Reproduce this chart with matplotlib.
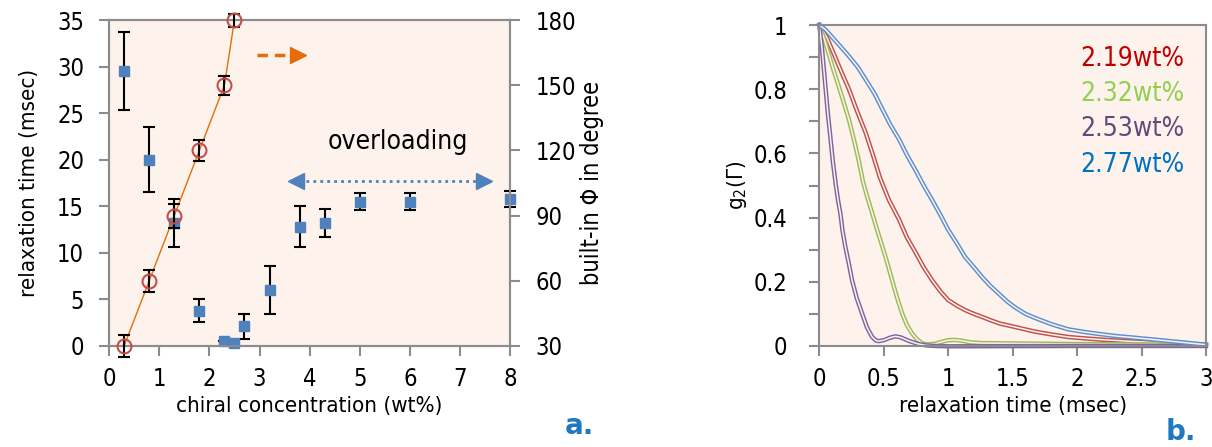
import matplotlib
matplotlib.use("Agg")
import matplotlib.pyplot as plt
import numpy as np

plt.rcParams['font.family'] = ['DejaVu Sans']
plt.rcParams['font.stretch'] = 'condensed'
plt.rcParams['mathtext.default'] = 'regular'

# ---- panel a data ----
conc = [0.3, 0.8, 1.3, 1.8, 2.3, 2.5, 2.7, 3.2, 3.8, 4.3, 5.0, 6.0, 8.0]
relax = [29.5, 20.0, 13.2, 3.8, 0.5, 0.3, 2.1, 6.0, 12.8, 13.2, 15.5, 15.5, 15.8]
relax_err = [4.2, 3.5, 2.6, 1.2, 0.0, 0.0, 1.35, 2.6, 2.2, 1.5, 0.9, 0.9, 0.85]

phi_conc = [0.3, 0.8, 1.3, 1.8, 2.3, 2.5]
phi_deg = [30, 60, 90, 120, 150, 180]
phi_err = [5.0, 5.0, 5.5, 5.0, 4.5, 3.0]

# ---- panel b data (g2 decay curves) ----
t_blue = [0, 0.05, 0.1, 0.16, 0.23, 0.3, 0.36, 0.43, 0.49, 0.55, 0.62, 0.68, 0.75,
          0.81, 0.875, 0.94, 1.0, 1.07, 1.13, 1.2, 1.26, 1.33, 1.4, 1.46, 1.52, 1.6,
          1.67, 1.8, 1.93, 2.05, 2.18, 2.3, 2.44, 2.57, 2.7, 2.85, 3.0]
g_blue = [1.0, 0.985, 0.962, 0.935, 0.903, 0.868, 0.83, 0.785, 0.737, 0.69, 0.643,
          0.595, 0.545, 0.50, 0.455, 0.408, 0.362, 0.318, 0.278, 0.245, 0.216, 0.186,
          0.16, 0.138, 0.12, 0.10, 0.088, 0.068, 0.052, 0.044, 0.037, 0.031, 0.026,
          0.021, 0.016, 0.01, 0.004]
t_red = [0, 0.06, 0.12, 0.17, 0.23, 0.29, 0.36, 0.42, 0.47, 0.54, 0.62, 0.68, 0.75,
         0.81, 0.875, 0.94, 1.0, 1.07, 1.13, 1.2, 1.26, 1.33, 1.4, 1.52, 1.67, 1.8,
         1.93, 2.05, 2.18, 2.44, 2.7, 3.0]
g_red = [1.0, 0.96, 0.903, 0.855, 0.80, 0.735, 0.664, 0.59, 0.525, 0.455, 0.393,
         0.338, 0.289, 0.245, 0.205, 0.17, 0.143, 0.125, 0.112, 0.10, 0.091, 0.08,
         0.07, 0.059, 0.045, 0.036, 0.028, 0.024, 0.020, 0.014, 0.009, 0.004]
t_green = [0, 0.035, 0.07, 0.11, 0.15, 0.19, 0.23, 0.27, 0.305, 0.34, 0.375, 0.41,
           0.45, 0.49, 0.53, 0.565, 0.6, 0.643, 0.68, 0.72, 0.76, 0.8, 0.84, 0.9,
           0.95, 1.0, 1.05, 1.11, 1.18, 1.26, 1.52, 2.0, 3.0]
g_green = [1.0, 0.96, 0.914, 0.86, 0.81, 0.758, 0.705, 0.64, 0.58, 0.51, 0.46, 0.414,
           0.36, 0.309, 0.255, 0.205, 0.155, 0.101, 0.065, 0.039, 0.02, 0.008, 0.005,
           0.007, 0.013, 0.018, 0.019, 0.016, 0.011, 0.009, 0.008, 0.006, 0.004]
t_purple = [0, 0.02, 0.047, 0.065, 0.085, 0.105, 0.127, 0.145, 0.163, 0.18, 0.202,
            0.23, 0.254, 0.29, 0.332, 0.37, 0.41, 0.44, 0.461, 0.5, 0.55, 0.59, 0.63,
            0.694, 0.76, 0.824, 0.9, 1.0, 2.0, 3.0]
g_purple = [1.0, 0.93, 0.81, 0.73, 0.653, 0.575, 0.505, 0.455, 0.414, 0.36, 0.309,
            0.255, 0.205, 0.15, 0.101, 0.058, 0.028, 0.017, 0.015, 0.018, 0.026, 0.030,
            0.027, 0.016, 0.007, 0.002, 0.0, -0.001, 0.0, 0.0]
labels_b = ["2.19wt%", "2.32wt%", "2.53wt%", "2.77wt%"]

FACE = "#FDF3EC"
SPINE = "#8C8C8C"
BLUE = "#4F81BD"
ORANGE = "#E46C0A"
FS = 17     # tick labels
LFS = 16    # axis labels

fig = plt.figure(figsize=(12.12, 4.47), dpi=100)


def style_axes(ax, ypad=11):
    for s in ax.spines.values():
        s.set_color(SPINE)
        s.set_linewidth(1.5)
    ax.tick_params(axis="both", which="both", color=SPINE, width=1.5, length=7,
                   labelsize=FS, direction="out")
    ax.tick_params(axis="y", pad=ypad)
    ax.tick_params(axis="x", pad=8)


# ---- A ----
ax = fig.add_axes([0.090, 0.226, 0.331, 0.729])
ax.set_facecolor(FACE)
ax.set_xlim(0, 8)
ax.set_ylim(0, 35)
ax.set_xticks(range(0, 9))
ax.set_yticks(range(0, 36, 5))
style_axes(ax)
ax.errorbar(conc, relax, yerr=relax_err, fmt="s", color=BLUE, ms=7.5,
            ecolor="black", elinewidth=1.5, capsize=4, capthick=1.5, zorder=3,
            clip_on=False)
ax.set_xlabel("chiral concentration (wt%)", fontsize=LFS, labelpad=4)
ax.set_ylabel("relaxation time (msec)", fontsize=LFS, labelpad=13)

ax2 = ax.twinx()
ax2.set_ylim(30, 180)
ax2.set_yticks(range(30, 181, 30))
style_axes(ax2)
ax2.plot(phi_conc, phi_deg, color=ORANGE, lw=1, zorder=2)
ax2.errorbar(phi_conc, phi_deg, yerr=phi_err, fmt="none", ecolor="black",
             elinewidth=1.5, capsize=4, capthick=1.5, zorder=3, clip_on=False)
ax2.plot(phi_conc, phi_deg, "o", mfc="none", mec="#C0504D", mew=1.5, ms=10,
         zorder=4, clip_on=False)
ax2.set_ylabel("built-in Φ in degree", fontsize=17, labelpad=3)

# orange arrow pointing to right axis
ax.plot([2.94, 3.64], [31.3, 31.3], color=ORANGE, lw=2.5, dashes=(3, 2))
ax.plot([3.76], [31.3], marker=">", color=ORANGE, ms=11)
# blue dotted double arrow
ax.plot([3.78, 7.40], [17.7, 17.7], color=BLUE, lw=2, ls=(0, (1, 1.5)))
ax.plot([3.72], [17.7], marker="<", color=BLUE, ms=11)
ax.plot([7.48], [17.7], marker=">", color=BLUE, ms=11)
ax.text(5.75, 21.9, "overloading", fontsize=19, ha="center", va="center")
fig.text(0.466, 0.03, "a.", color="#1F78C1", fontsize=20, fontweight="bold",
         stretch="normal")

# ---- B ----
bx = fig.add_axes([0.676, 0.226, 0.319, 0.718])
bx.set_facecolor(FACE)
bx.set_xlim(0, 3)
bx.set_ylim(0, 1)
bx.set_xticks(np.arange(0, 3.01, 0.5))
bx.set_xticklabels(["0", "0.5", "1", "1.5", "2", "2.5", "3"])
bx.set_yticks(np.arange(0, 1.01, 0.2))
bx.set_yticklabels(["0", "0.2", "0.4", "0.6", "0.8", "1"])
bx.set_yticks(np.arange(0.1, 1.0, 0.2), minor=True)
style_axes(bx, ypad=16)
curves = [(t_red, g_red, "#C0504D"), (t_green, g_green, "#9BBB59"),
          (t_purple, g_purple, "#8064A2"), (t_blue, g_blue, "#5B8FD0")]
for t, g, c in curves:
    bx.plot(t, g, color=c, lw=3.2, solid_joinstyle="round", clip_on=False)
    bx.plot(t, g, color=FACE, lw=1.1, solid_joinstyle="round", clip_on=False)
text_colors = ["#C00000", "#92D050", "#604A7B", "#0070C0"]
for i, (lab, c) in enumerate(zip(labels_b, text_colors)):
    bx.text(0.675, 0.895 - i * 0.11, lab, color=c, fontsize=19,
            transform=bx.transAxes, va="center")
bx.set_xlabel("relaxation time (msec)", fontsize=LFS, labelpad=4)
bx.set_ylabel("g$_2$(Γ)", fontsize=16, labelpad=3)
fig.text(0.962, 0.015, "b.", color="#1F78C1", fontsize=20, fontweight="bold",
         stretch="normal")

fig.savefig("out.png", dpi=100)
